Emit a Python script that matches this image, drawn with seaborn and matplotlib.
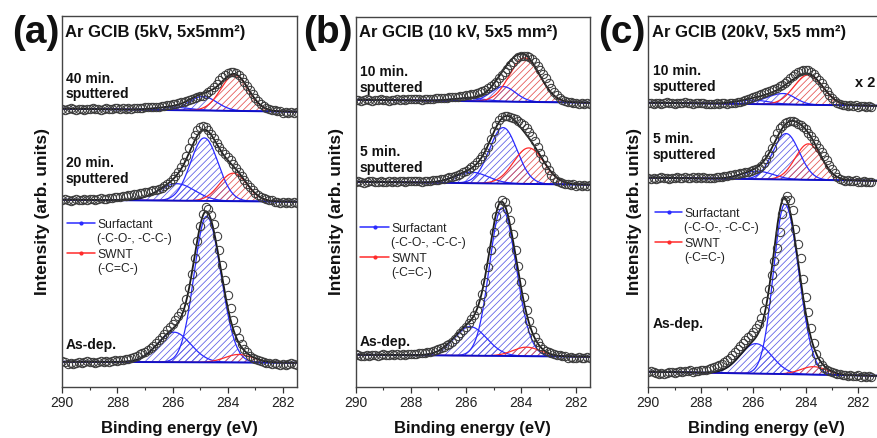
import numpy as np
import matplotlib
matplotlib.use("Agg")
import matplotlib.pyplot as plt
from matplotlib.lines import Line2D
from matplotlib.ticker import MultipleLocator
import seaborn as sns

# ---------------------------------------------------------------------------
# C 1s spectra: binding-energy grid of the measured points (290.0 -> 281.5 eV)
# ---------------------------------------------------------------------------
energy = np.round(np.arange(290.0, 281.45, -0.1), 1)

# Measured intensity above the linear background (arb. units), one list per spectrum
a_asdep = [1, 0, -2, -1, -2, -1, 0, -1, 0, 1, 0, 0, -1, 0, 1, 0, 1, 0, 1, 2, 1,
           2, 2, 3, 3, 4, 5, 6, 8, 9, 10, 12, 14, 16, 19, 22, 25, 28, 32, 35, 38,
           42, 46, 50, 55, 63, 74, 88, 104, 121, 136,
           148, 155, 153, 147, 138, 126, 112, 97, 82, 67,
           54, 42, 32, 24, 18, 13, 10, 7, 5, 4,
           3, 2, 1, 0, 0, -1, 0, -1, -2, -1,
           -2, -1, 0, -1, -2]
a_20min = [0, 1, 0, -1, 0, 1, 0, 0, 1, 0, 1, 1, 0, 1, 2, 1, 1, 2, 2, 3, 3,
           3, 4, 4, 5, 5, 6, 6, 7, 7, 8, 8, 9, 10, 11, 12, 13, 15, 17, 19, 22,
           25, 29, 34, 39, 45, 53, 60, 66, 71, 74,
           75, 74, 71, 67, 63, 58, 54, 50, 47, 44,
           41, 37, 33, 29, 25, 21, 17, 14, 11, 8,
           6, 4, 3, 2, 1, 1, 0, 0, -1, 0,
           -1, 0, -1, 0, -1]
a_40min = [0, -1, 0, 1, 0, -1, 0, 0, -1, 0, 0, 1, 0, 0, -1, 0, 1, 0, 0, 1, 1,
           0, 1, 1, 2, 1, 2, 2, 2, 2, 3, 3, 3, 3, 3, 3, 4, 4, 5, 5, 6,
           6, 7, 8, 8, 9, 10, 11, 12, 13, 14,
           15, 17, 19, 21, 24, 27, 31, 34, 36, 38,
           39, 39, 38, 36, 33, 29, 25, 21, 17, 13,
           10, 7, 5, 3, 2, 1, 1, 0, 0, -1,
           0, -1, 0, -1, 0]

b_asdep = [1, 0, -1, -1, 0, -1, 0, 0, -1, 0, 1, 0, 0, 1, 0, 1, 0, 1, 0, 1, 1,
           1, 1, 2, 2, 2, 3, 3, 4, 5, 6, 7, 8, 10, 12, 14, 17, 20, 23, 26, 29,
           33, 37, 41, 46, 53, 62, 74, 89, 106, 124,
           140, 151, 156, 154, 147, 136, 122, 106, 90, 74,
           59, 46, 35, 26, 19, 14, 10, 7, 5, 4,
           3, 2, 1, 1, 0, 0, -1, 0, -1, -1,
           0, -1, -1, 0, -1]
b_5min = [0, 1, 0, -1, 0, 1, 1, 0, 0, 1, 0, 0, 1, 0, 1, 0, 1, 1, 0, 1, 1,
          1, 1, 2, 1, 2, 2, 2, 3, 3, 3, 4, 4, 5, 6, 6, 7, 8, 9, 11, 12,
          14, 16, 18, 21, 24, 27, 31, 36, 44, 52,
          59, 64, 67, 68, 68, 67, 66, 65, 63, 61,
          59, 56, 52, 48, 43, 37, 31, 25, 19, 14,
          9, 6, 3, 2, 1, 0, 0, -1, 0, -1,
          0, -1, 0, -1, 0]
b_10min = [0, 0, -1, 0, 1, 0, -1, 0, 0, 1, 0, 0, -1, 0, 0, 1, 0, 1, 0, 1, 1,
           1, 1, 2, 1, 2, 2, 2, 2, 3, 3, 3, 3, 3, 4, 4, 4, 4, 5, 5, 6,
           6, 7, 7, 8, 9, 10, 11, 13, 15, 17,
           20, 24, 27, 30, 33, 37, 40, 43, 45, 46,
           46, 46, 45, 43, 40, 36, 32, 28, 24, 19,
           14, 10, 7, 4, 2, 1, 0, 0, -1, 0,
           -1, 0, -1, 0, -1]

c_asdep = [0, 1, 0, -1, -2, -1, -2, -1, 0, 0, -1, 0, 1, 0, 1, 1, 2, 1, 2, 2, 3,
           3, 3, 4, 5, 6, 7, 8, 9, 11, 13, 15, 18, 21, 24, 27, 30, 33, 36, 39, 42,
           46, 50, 56, 64, 73, 85, 99, 113, 126, 142,
           160, 174, 178, 174, 164, 145, 130, 116, 95, 78,
           63, 47, 32, 21, 14, 10, 7, 5, 4, 3,
           2, 1, 1, 0, 0, -1, 0, -1, -1, 0,
           -1, 0, -1, 0, -1]
c_5min = [0, -1, 0, -1, 0, 1, 0, 0, -1, 0, 0, 1, 0, 0, 1, 0, 0, 1, 0, 1, 0,
          1, 0, 1, 1, 1, 2, 2, 2, 3, 3, 4, 4, 5, 5, 6, 6, 7, 7, 8, 9,
          10, 11, 13, 16, 20, 25, 31, 40, 46, 51,
          54, 57, 58, 59, 59, 58, 56, 55, 53, 51,
          47, 44, 40, 36, 32, 28, 24, 20, 15, 11,
          7, 3, 1, 0, -1, 0, -1, -1, 0, -1,
          -1, 0, -1, -1, -1]
c_10min = [0, 0, -1, 0, 0, -1, 0, 1, 0, 0, -1, 0, 0, 0, 1, 0, 0, -1, 0, 0, 0,
           0, -1, 0, 0, 0, 1, 0, 1, 1, 0, 1, 1, 1, 2, 2, 3, 4, 5, 6, 7,
           8, 9, 10, 11, 12, 13, 14, 15, 16, 18,
           20, 22, 24, 27, 29, 31, 33, 34, 35, 35,
           35, 33, 31, 28, 25, 22, 18, 14, 10, 7,
           4, 2, 1, 0, 0, -1, 0, -1, 0, -1,
           0, 0, -1, 0, -1]

# Linear (stacked) backgrounds: (level at 290 eV, level at 281.5 eV)
a_asdep_bg, a_20min_bg, a_40min_bg = (25, 24), (187, 185), (278, 275)
b_asdep_bg, b_5min_bg, b_10min_bg = (32, 30), (205, 202), (287, 284)
c_asdep_bg, c_5min_bg, c_10min_bg = (15, 11), (209, 206), (284, 281)

# Fitted components: (centre eV, height, width on high-BE side, width on low-BE side)
a_asdep_surf = [(284.77, 146, 0.45, 0.52), (285.95, 30, 0.60, 0.60)]
a_asdep_swnt = [(283.60, 8, 0.50, 0.50)]
a_20min_surf = [(284.85, 63, 0.50, 0.50), (285.85, 17, 0.65, 0.65)]
a_20min_swnt = [(283.80, 28, 0.50, 0.50)]
a_40min_surf = [(284.90, 14, 0.50, 0.50), (286.00, 3, 0.60, 0.60)]
a_40min_swnt = [(283.75, 36, 0.50, 0.50)]

b_asdep_surf = [(284.70, 148, 0.45, 0.52), (285.85, 29, 0.60, 0.60)]
b_asdep_swnt = [(283.80, 9, 0.50, 0.50)]
b_5min_surf = [(284.65, 56, 0.50, 0.50), (285.80, 11, 0.60, 0.60)]
b_5min_swnt = [(283.72, 36, 0.55, 0.55)]
b_10min_surf = [(284.65, 15, 0.45, 0.45), (285.90, 3, 0.60, 0.60)]
b_10min_swnt = [(283.87, 44, 0.55, 0.55)]

c_asdep_surf = [(284.80, 170, 0.43, 0.53), (285.90, 30, 0.60, 0.60)]
c_asdep_swnt = [(283.70, 8, 0.50, 0.50)]
c_5min_surf = [(284.75, 46, 0.50, 0.50), (285.85, 8, 0.60, 0.60)]
c_5min_swnt = [(283.90, 36, 0.50, 0.50)]
c_10min_surf = [(284.85, 11, 0.65, 0.45), (286.00, 4, 0.60, 0.60)]
c_10min_swnt = [(283.90, 30, 0.55, 0.55)]

panel_letters = ["(a)", "(b)", "(c)"]
panel_titles = ["Ar GCIB (5kV, 5x5mm\u00b2)", "Ar GCIB (10 kV, 5x5 mm\u00b2)",
                "Ar GCIB (20kV, 5x5 mm\u00b2)"]
a_labels = [("40 min.", "sputtered"), ("20 min.", "sputtered"), ("As-dep.",)]
b_labels = [("10 min.", "sputtered"), ("5 min.", "sputtered"), ("As-dep.",)]
c_labels = [("10 min.", "sputtered"), ("5 min.", "sputtered"), ("As-dep.",)]
legend_labels = [("Surfactant", "(-C-O-, -C-C-)"), ("SWNT", "(-C=C-)")]
xticks = [290, 288, 286, 284, 282]

# ---------------------------------------------------------------------------
sns.set_theme(style="white")
plt.rcParams["font.family"] = ["Liberation Sans", "DejaVu Sans"]
plt.rcParams["hatch.linewidth"] = 0.55

W, H = 877, 438
fig = plt.figure(figsize=(W / 100, H / 100), dpi=100)

BLUE, BLUE_HATCH = "#2b2bff", "#5a5ae6"
RED, RED_HATCH = "#ff2b2b", "#e45050"
DARK = "#1c1c1c"


def fx(px):
    return px / W


def fy(py):
    return 1 - py / H


def peak(e, c, h, w_hi, w_lo):
    w = np.where(e >= c, w_hi, w_lo)
    return h * np.exp(-0.5 * ((e - c) / w) ** 2)


def background(e, bg):
    return np.interp(e, [281.5, 290.0], [bg[1], bg[0]])


def draw_spectrum(ax, counts, bg, surf, swnt, e_fit):
    base = background(e_fit, bg)
    total = np.zeros_like(e_fit)
    for group, line_c, hatch_c in ((surf, BLUE, BLUE_HATCH), (swnt, RED, RED_HATCH)):
        for c, h, w_hi, w_lo in group:
            comp = peak(e_fit, c, h, w_hi, w_lo)
            total += comp
            plt.rcParams["hatch.color"] = hatch_c
            ax.fill_between(e_fit, base, base + comp, facecolor="none",
                            edgecolor=hatch_c, hatch="/////", linewidth=0)
            sns.lineplot(x=e_fit, y=base + comp, ax=ax, color=line_c,
                         linewidth=0.9, sort=False)
    sns.lineplot(x=e_fit, y=base, ax=ax, color="#1010c8", linewidth=1.4, sort=False)
    sns.lineplot(x=e_fit, y=base + total, ax=ax, color=DARK, linewidth=1.3, sort=False)
    sns.lineplot(x=energy, y=background(energy, bg) + np.asarray(counts), ax=ax,
                 marker="o", linestyle="none", markerfacecolor="none",
                 markeredgecolor="#3a3a3a", markersize=6, markeredgewidth=0.75,
                 color="#3a3a3a", sort=False)


# axes boxes in pixels: left, top, right, bottom ; x-range
panels = [
    dict(box=(62.3, 16, 296.7, 386.7), xlim=(290, 281.5),
         spectra=[(a_40min, a_40min_bg, a_40min_surf, a_40min_swnt),
                  (a_20min, a_20min_bg, a_20min_surf, a_20min_swnt),
                  (a_asdep, a_asdep_bg, a_asdep_surf, a_asdep_swnt)],
         labels=a_labels, label_base=[(83, 98), (167, 183), (349,)], text_x=65,
         letter_x=12, ylab_x=43, legend=(67, 95, 223)),
    dict(box=(355.7, 17, 590.0, 386.7), xlim=(290, 281.5),
         spectra=[(b_10min, b_10min_bg, b_10min_surf, b_10min_swnt),
                  (b_5min, b_5min_bg, b_5min_surf, b_5min_swnt),
                  (b_asdep, b_asdep_bg, b_asdep_surf, b_asdep_swnt)],
         labels=b_labels, label_base=[(76, 92), (156, 172), (346,)], text_x=359,
         letter_x=303, ylab_x=337, legend=(360, 389, 227)),
    dict(box=(648.3, 16, 884.55, 386.7), xlim=(290, 281),
         spectra=[(c_10min, c_10min_bg, c_10min_surf, c_10min_swnt),
                  (c_5min, c_5min_bg, c_5min_surf, c_5min_swnt),
                  (c_asdep, c_asdep_bg, c_asdep_surf, c_asdep_swnt)],
         labels=c_labels, label_base=[(75, 91), (143, 159), (328,)], text_x=652,
         letter_x=598, ylab_x=634, legend=(655, 682, 212)),
]

for i, p in enumerate(panels):
    l, t, r, b = p["box"]
    ax = fig.add_axes([fx(l), fy(b), (r - l) / W, (b - t) / H])
    e_fit = np.linspace(p["xlim"][0], p["xlim"][1], 500)
    for counts, bg, surf, swnt in p["spectra"]:
        draw_spectrum(ax, counts, bg, surf, swnt, e_fit)

    ax.set_xlim(*p["xlim"])
    ax.set_ylim(0, b - t)
    ax.set_xticks(xticks)
    ax.xaxis.set_minor_locator(MultipleLocator(1))
    ax.set_yticks([])
    ax.tick_params(axis="x", which="major", direction="out", length=4, width=0.9,
                   labelsize=10, pad=3, colors="#333333", labelcolor="#222222",
                   bottom=True)
    ax.tick_params(axis="x", which="minor", direction="out", length=2.5,
                   width=0.8, colors="#333333", bottom=True)
    for s in ax.spines.values():
        s.set_linewidth(1.0)
        s.set_color("#444444")

    ax.set_xlabel("Binding energy (eV)", fontsize=12, fontweight="bold", color="#111111")
    ax.xaxis.set_label_coords(0.5, (b - 428) / (b - t))
    ax.xaxis.label.set_va("center")
    ax.set_ylabel("Intensity (arb. units)", fontsize=12.5, fontweight="bold",
                  color="#111111")
    ax.yaxis.set_label_coords((p["ylab_x"] - l) / (r - l), (b - 211.5) / (b - t))
    ax.yaxis.label.set_va("center")

    # panel letter and title
    fig.text(fx(p["letter_x"]), fy(43), panel_letters[i], fontsize=28,
             fontweight="bold", color="#111111", va="baseline", ha="left")
    fig.text(fx(p["text_x"]), fy(37), panel_titles[i], fontsize=12,
             fontweight="bold", color="#111111", va="baseline", ha="left")

    # sample labels
    for lines, bases in zip(p["labels"], p["label_base"]):
        for txt, yb in zip(lines, bases):
            fig.text(fx(p["text_x"] + 1), fy(yb), txt, fontsize=10,
                     fontweight="bold", color="#111111", va="baseline", ha="left")

    # component key
    x0, x1, yl = p["legend"]
    for k, (col, (first, second)) in enumerate(zip((BLUE, RED), legend_labels)):
        yy = yl + 30 * k
        fig.add_artist(Line2D([fx(x0), fx((x0 + x1) / 2), fx(x1)], [fy(yy)] * 3,
                              color=col, linewidth=1.1, marker="o", markersize=2,
                              markevery=[1]))
        fig.text(fx(x1 + 2), fy(yy + 5), first, fontsize=8.7, color="#222222",
                 va="baseline", ha="left")
        fig.text(fx(x1 + 2), fy(yy + 19), second, fontsize=8.7, color="#222222",
                 va="baseline", ha="left")

fig.text(fx(855), fy(87), "x 2", fontsize=10.5, fontweight="bold", color="#111111",
         va="baseline", ha="left")

fig.savefig("out.png", dpi=100)
